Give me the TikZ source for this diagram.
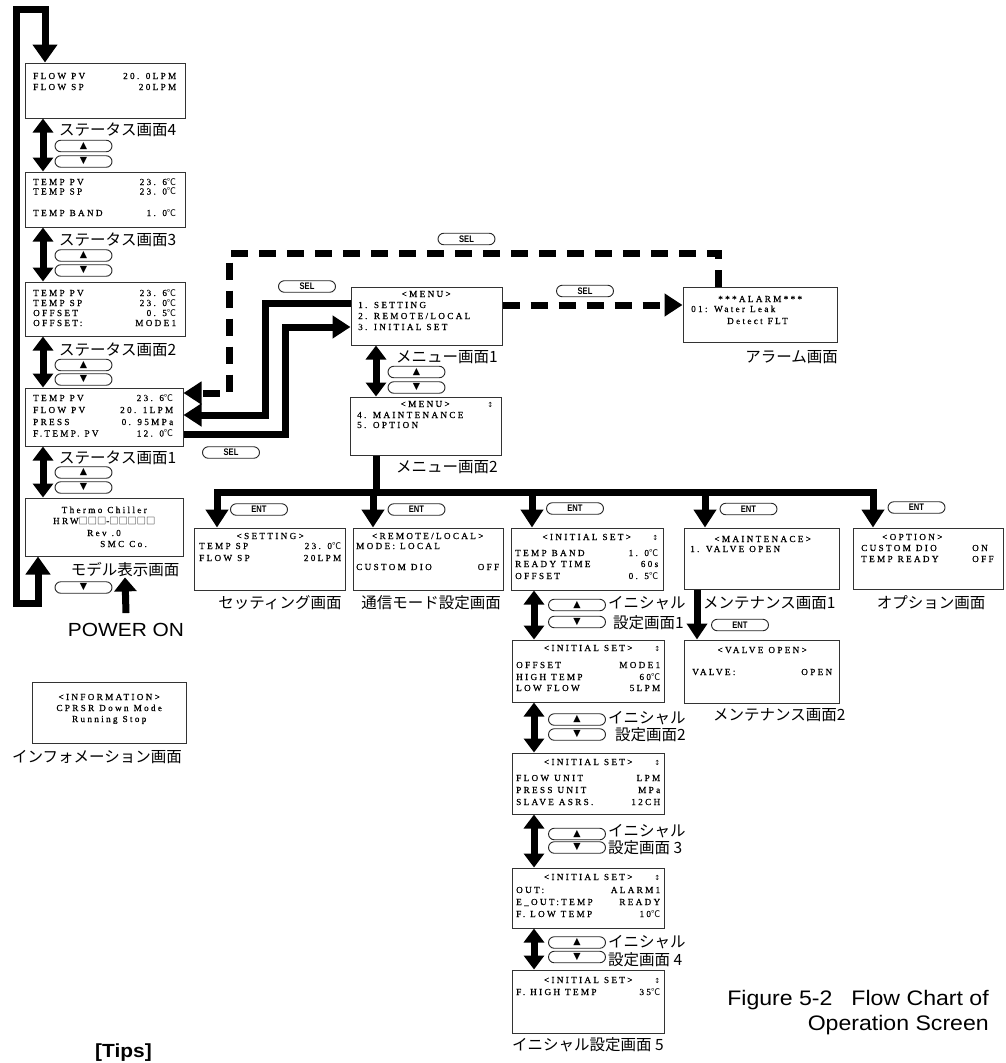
\documentclass[tikz,border=0pt]{standalone}
\usepackage{fontspec}
\setmainfont{Liberation Serif}
\newfontfamily\lcdf[LetterSpace=25,FakeBold=0.6]{Liberation Serif}
\newfontfamily\cjk{Noto Sans CJK JP}
\newfontfamily\capf[FakeStretch=1.1]{Liberation Sans}
\newfontfamily\btnf[FakeStretch=0.8]{Liberation Sans}
\newfontfamily\djf{DejaVu Sans}
\usetikzlibrary{arrows.meta}
\newcommand\dC{{\cjk ℃}}
\newcommand\ud{{\djf\fontsize{7}{7}\selectfont ↕}}
\newcommand\sq{{\cjk □}}
\newcommand\lrows[2]{\vtop{\hsize=#1pt\spaceskip=5pt plus 1pt\baselineskip=0pt\lineskip=0pt\lineskiplimit=-100pt\relax #2}}
\newcommand\rw[2]{\hbox to\hsize{#1\hfil#2}}
\newcommand\ct[1]{\hbox to\hsize{\hfil#1\hfil}}
\newcommand\ctu[1]{\hbox to\hsize{\hfil#1\hfil\llap{\ud}}}
\newcommand\lf[2]{\hbox to\hsize{\hskip#1pt#2\hfil}}
\newcommand\gp[1]{\vskip#1pt}
\newcommand\up{{\djf\fontsize{9.5}{9.5}\selectfont ▲}}
\newcommand\dn{{\djf\fontsize{9.5}{9.5}\selectfont ▼}}
\begin{document}
\begin{tikzpicture}[x=1pt,y=-1pt,
 scr/.style={draw=black!80, line width=1pt, inner sep=0pt, rectangle},
 lcdtxt/.style={inner sep=0pt, anchor=base west, font=\lcdf\fontsize{9.2}{10}\selectfont},
 jlab/.style={inner sep=0pt, font=\cjk\fontsize{15.5}{16}\selectfont},
 pill/.style={draw=black!85, line width=0.9pt, rounded corners=5.75pt, minimum width=57pt, minimum height=11.5pt, inner sep=0pt, font=\btnf\bfseries\fontsize{9.5}{9.5}\selectfont},
 thk/.style={line width=7pt},
 flow/.style={line width=7pt, -{Triangle[width=22pt,length=18pt]}},
 flowb/.style={line width=7pt, {Triangle[width=24pt,length=18pt]}-{Triangle[width=24pt,length=18pt]}},
 dflow/.style={flow, dash pattern=on 17pt off 11pt},
 dbl/.style={line width=7pt, {Triangle[width=20pt,length=14pt]}-{Triangle[width=20pt,length=14pt]}}
]
\fill[white] (0,0) rectangle (1005,1063);
\useasboundingbox (0,0) rectangle (1005,1063);

% ---------- screens ----------
\node[scr, minimum width=160pt, minimum height=55pt] (s4) at (105,90.5) {};
\node[scr, minimum width=160pt, minimum height=55pt] (s3) at (105,199.5) {};
\node[scr, minimum width=160pt, minimum height=54pt] (s2) at (105,309) {};
\node[scr, minimum width=158pt, minimum height=58pt] (s1) at (104,417) {};
\node[scr, minimum width=158pt, minimum height=58pt] (md) at (104,527) {};
\node[scr, minimum width=154pt, minimum height=61pt] (info) at (109,712.5) {};
\node[scr, minimum width=151pt, minimum height=58pt] (m1) at (426.5,316) {};
\node[scr, minimum width=151pt, minimum height=58pt] (m2) at (425.5,426) {};
\node[scr, minimum width=154pt, minimum height=55pt] (al) at (760,314.5) {};
\node[scr, minimum width=151pt, minimum height=62pt] (set) at (269.5,559) {};
\node[scr, minimum width=150pt, minimum height=62pt] (rem) at (428,559) {};
\node[scr, minimum width=152pt, minimum height=62pt] (i1) at (587,559) {};
\node[scr, minimum width=155pt, minimum height=61pt] (mt1) at (761.5,558.5) {};
\node[scr, minimum width=150pt, minimum height=61pt] (opt) at (928,558.5) {};
\node[scr, minimum width=152pt, minimum height=62pt] (i2) at (588,671) {};
\node[scr, minimum width=155pt, minimum height=63pt] (mt2) at (761.5,671.5) {};
\node[scr, minimum width=152pt, minimum height=61pt] (i3) at (588,783.5) {};
\node[scr, minimum width=152pt, minimum height=60pt] (i4) at (588,898) {};
\node[scr, minimum width=152pt, minimum height=63pt] (i5) at (588,1001.5) {};

% ---------- screen texts ----------
\node[lcdtxt] (s4t) at (33,79) {\lrows{143}{\rw{FLOW PV}{20. 0LPM}\gp{11}\rw{FLOW SP}{20LPM}}};
\node[lcdtxt] (s3t) at (33,185) {\lrows{143}{\rw{TEMP PV}{23. 6\dC}\gp{9.5}\rw{TEMP SP}{23. 0\dC}\gp{21.5}\rw{TEMP BAND}{1. 0\dC}}};
\node[lcdtxt] (s2t) at (33,296) {\lrows{143}{\rw{TEMP PV}{23. 6\dC}\gp{10}\rw{TEMP SP}{23. 0\dC}\gp{10}\rw{OFFSET}{0. 5\dC}\gp{10}\rw{OFFSET:}{MODE1}}};
\node[lcdtxt] (s1t) at (33,401) {\lrows{140}{\rw{TEMP PV}{23. 6\dC}\gp{12}\rw{FLOW PV}{20. 1LPM}\gp{12}\rw{PRESS}{0. 95MPa}\gp{11.5}\rw{F.TEMP. PV}{12. 0\dC}}};
\node[lcdtxt] (mdt) at (33,513) {\lrows{142}{\ct{Thermo Chiller}\gp{11}\ct{HRW\sq\sq\sq-\sq\sq\sq\sq\sq}\gp{12}\lf{54}{Rev .0}\gp{11}\lf{67}{SMC Co.}}};
\node[lcdtxt] (infot) at (40,700) {\lrows{138}{\ct{<INFORMATION>}\gp{11}\ct{CPRSR Down Mode}\gp{11}\ct{Running Stop}}};
\node[lcdtxt] (m1t) at (358,297) {\lrows{136}{\ct{<MENU>}\gp{11}\rw{1. SETTING}{}\gp{11}\rw{2. REMOTE/LOCAL}{}\gp{11}\rw{3. INITIAL SET}{}}};
\node[lcdtxt] (m2t) at (357,407) {\lrows{136}{\ctu{<MENU>}\gp{11}\rw{4. MAINTENANCE}{}\gp{10}\rw{5. OPTION}{}}};
\node[lcdtxt] (alt) at (691,302) {\lrows{138}{\ct{***ALARM***}\gp{10}\rw{01: Water Leak}{}\gp{12}\lf{36}{Detect FLT}}};
\node[lcdtxt] (sett) at (199,539) {\lrows{142}{\ct{<SETTING>}\gp{10}\rw{TEMP SP}{23. 0\dC}\gp{12}\rw{FLOW SP}{20LPM}}};
\node[lcdtxt] (remt) at (356,539) {\lrows{143}{\ct{<REMOTE/LOCAL>}\gp{10}\rw{MODE: LOCAL}{}\gp{21}\rw{CUSTOM DIO}{OFF}}};
\node[lcdtxt] (i1t) at (515,540) {\lrows{143}{\ctu{<INITIAL SET>}\gp{16}\rw{TEMP BAND}{1. 0\dC}\gp{11}\rw{READY TIME}{60s}\gp{12}\rw{OFFSET}{0. 5\dC}}};
\node[lcdtxt] (mt1t) at (690,542) {\lrows{145}{\ct{<MAINTENACE>}\gp{10}\rw{1. VALVE OPEN}{}}};
\node[lcdtxt] (optt) at (861,540) {\lrows{139}{\lf{21}{<OPTION>}\gp{11}\rw{CUSTOM DIO}{\hbox to28pt{ON\hfil}}\gp{11}\rw{TEMP READY}{\hbox to28pt{OFF\hfil}}}};
\node[lcdtxt] (i2t) at (516,651) {\lrows{144}{\ctu{<INITIAL SET>}\gp{17}\rw{OFFSET}{MODE1}\gp{12}\rw{HIGH TEMP}{60\dC}\gp{11}\rw{LOW FLOW}{5LPM}}};
\node[lcdtxt] (mt2t) at (692,653) {\lrows{140}{\ct{<VALVE OPEN>}\gp{22}\rw{VALVE:}{OPEN}}};
\node[lcdtxt] (i3t) at (516,765) {\lrows{144}{\ctu{<INITIAL SET>}\gp{16}\rw{FLOW UNIT}{LPM}\gp{12}\rw{PRESS UNIT}{MPa}\gp{12}\rw{SLAVE ASRS.}{12CH}}};
\node[lcdtxt] (i4t) at (516,880) {\lrows{144}{\ctu{<INITIAL SET>}\gp{13}\rw{OUT:}{ALARM1}\gp{12}\rw{E\_OUT:TEMP}{READY}\gp{12}\rw{F. LOW TEMP}{10\dC}}};
\node[lcdtxt] (i5t) at (516,983) {\lrows{144}{\ctu{<INITIAL SET>}\gp{12}\rw{F. HIGH TEMP}{35\dC}}};

% ---------- labels ----------
\node[jlab, anchor=west] (sl4) at (59,130) {ステータス画面4};
\node[jlab, anchor=west] (sl3) at (59,240) {ステータス画面3};
\node[jlab, anchor=west] (sl2) at (59,350) {ステータス画面2};
\node[jlab, anchor=west] (sl1) at (59,458) {ステータス画面1};
\node[jlab] (mdl) at (125,570) {モデル表示画面};
\node[jlab] (infol) at (97,757) {インフォメーション画面};
\node[jlab, anchor=west] (m1l) at (396,357) {メニュー画面1};
\node[jlab, anchor=west] (m2l) at (396,467) {メニュー画面2};
\node[jlab, anchor=east] (all) at (838,357) {アラーム画面};
\node[jlab] (setl) at (280,603) {セッティング画面};
\node[jlab] (reml) at (431,603) {通信モード設定画面};
\node[jlab, anchor=west] (mt1l) at (703,603) {メンテナンス画面1};
\node[jlab] (optl) at (931,603) {オプション画面};
\node[jlab, anchor=west] (mt2l) at (713,715) {メンテナンス画面2};
\node[jlab, anchor=west] (i1la) at (608,603) {イニシャル};
\node[jlab, anchor=west] (i1lb) at (613,623) {設定画面1};
\node[jlab, anchor=west] (i2la) at (608,718) {イニシャル};
\node[jlab, anchor=west] (i2lb) at (615,735) {設定画面2};
\node[jlab, anchor=west] (i3la) at (608,831) {イニシャル};
\node[jlab, anchor=west] (i3lb) at (608,848) {設定画面 3};
\node[jlab, anchor=west] (i4la) at (608,942) {イニシャル};
\node[jlab, anchor=west] (i4lb) at (608,960) {設定画面 4};
\node[jlab, anchor=west] (i5l) at (512,1045) {イニシャル設定画面 5};
\node[inner sep=0pt, font=\capf\fontsize{19}{19}\selectfont] (pwr) at (126,630) {POWER ON};
\node[inner sep=0pt, anchor=base east, font=\capf\fontsize{21}{21}\selectfont] (fig1) at (989,1005.5) {Figure 5-2\hspace{0.9em}Flow Chart of};
\node[inner sep=0pt, anchor=base east, font=\capf\fontsize{21}{21}\selectfont] (fig2) at (989,1030.5) {Operation Screen};
\node[inner sep=0pt, anchor=north west, font=\capf\bfseries\fontsize{19}{19}\selectfont] (tips) at (95,1044) {[Tips]};

% ---------- buttons ----------
\node[pill] (b4u) at (83.5,146) {\up};
\node[pill] (b4d) at (83.5,161.5) {\dn};
\node[pill] (b3u) at (83.5,255.5) {\up};
\node[pill] (b3d) at (83.5,270.5) {\dn};
\node[pill] (b2u) at (83.5,365) {\up};
\node[pill] (b2d) at (83.5,379.5) {\dn};
\node[pill] (b1u) at (83.5,472.5) {\up};
\node[pill] (b1d) at (83.5,487.5) {\dn};
\node[pill] (bmd) at (83.5,587.5) {\dn};
\node[pill] (bmu) at (416.5,372) {\up};
\node[pill] (bmdn) at (416.5,387.5) {\dn};
\node[pill] (bi1u) at (577,605) {\up};
\node[pill] (bi1d) at (577,622) {\dn};
\node[pill] (bi2u) at (577,719.5) {\up};
\node[pill] (bi2d) at (577,734.5) {\dn};
\node[pill] (bi3u) at (577,834) {\up};
\node[pill] (bi3d) at (577,847.5) {\dn};
\node[pill] (bi4u) at (577,942.5) {\up};
\node[pill] (bi4d) at (577,957) {\dn};
\node[pill] (sel1) at (466.5,239) {SEL};
\node[pill] (sel2) at (585,291) {SEL};
\node[pill] (sel3) at (307,286.5) {SEL};
\node[pill] (sel4) at (231,452.5) {SEL};
\node[pill] (ent1) at (259,509.5) {ENT};
\node[pill] (ent2) at (416.5,509.5) {ENT};
\node[pill] (ent3) at (575,508.5) {ENT};
\node[pill] (ent4) at (748.5,509) {ENT};
\node[pill] (ent5) at (916.5,507.5) {ENT};
\node[pill] (ent6) at (740,625) {ENT};

% ---------- helper coordinates ----------
\coordinate (colL) at (43,0);
\coordinate (colM) at (376,0);
\coordinate (colI) at (534,0);
\coordinate (colT) at (697,0);
\coordinate (colA) at (265,0);
\coordinate (colB) at (285,0);
\coordinate (lpt) at (16,9);
\coordinate (lpb) at (16,603);
\coordinate (dtop) at (229,253);
\coordinate (bb1) at (217,492);
\coordinate (bb2) at (373,492);
\coordinate (bb3) at (532,492);
\coordinate (bb4) at (705,492);
\coordinate (bb5) at (873,492);

% ---------- connectors ----------
\draw[flowb] ([xshift=-66pt]md.south) |- (lpb) -- (lpt) -| ([xshift=-60pt]s4.north);
\draw[line width=7pt, -{Triangle[width=22pt,length=14pt]}] ([yshift=10pt]pwr.north) -- (mdl.south);
\draw[dbl] (s4.south -| colL) -- (s3.north -| colL);
\draw[dbl] (s3.south -| colL) -- (s2.north -| colL);
\draw[dbl] (s2.south -| colL) -- (s1.north -| colL);
\draw[dbl] (s1.south -| colL) -- (md.north -| colL);
\draw[dbl] (m1.south -| colM) -- (m2.north -| colM);
\draw[dbl] (i1.south -| colI) -- (i2.north -| colI);
\draw[dbl] (i2.south -| colI) -- (i3.north -| colI);
\draw[dbl] (i3.south -| colI) -- (i4.north -| colI);
\draw[dbl] (i4.south -| colI) -- (i5.north -| colI);
\draw[line width=7pt, -{Triangle[width=20pt,length=16pt]}] (mt1.south -| colT) -- (mt2.north -| colT);

\draw[thk] (m2.south -| colM) -- (colM |- bb1);
\draw[thk, line cap=rect] (bb1) -- (bb5);
\draw[flow] (bb1) -- (bb1 |- set.north);
\draw[flow] (bb2) -- (bb2 |- rem.north);
\draw[flow] (bb3) -- (bb3 |- i1.north);
\draw[flow] (bb4) -- (bb4 |- mt1.north);
\draw[flow] (bb5) -- (bb5 |- opt.north);

\draw[flow] ([yshift=13pt]m1.west) -- ([yshift=13pt]m1.west -| colA) |- ([yshift=2pt]s1.east);
\draw[flow] ([yshift=-17pt]s1.east) -- ([yshift=-17pt]s1.east -| colB) |- ([yshift=-11pt]m1.west);
\draw[dflow] ([xshift=-42pt]al.north) |- (dtop) |- ([yshift=24pt]s1.east);
\draw[dflow] ([yshift=11pt]m1.east) -- ([yshift=11pt]m1.east -| al.west);
\end{tikzpicture}
\end{document}
